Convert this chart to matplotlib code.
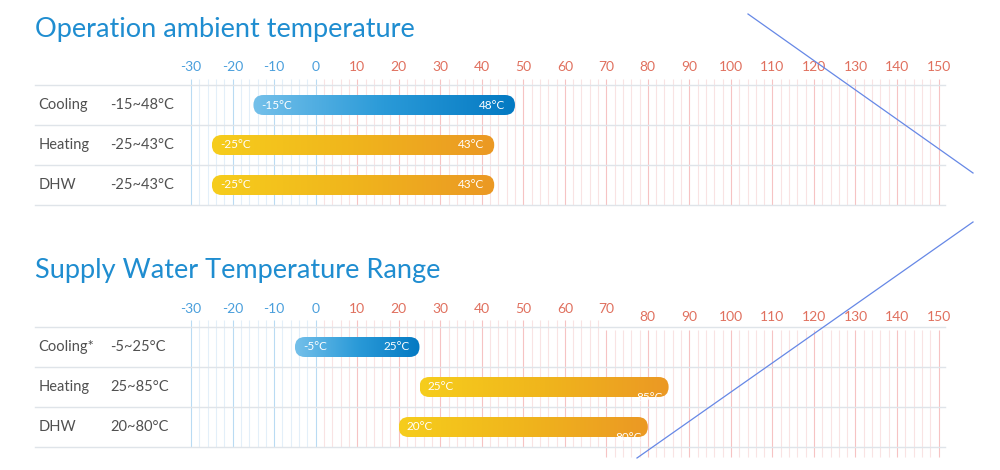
import numpy as np
import matplotlib
matplotlib.use("Agg")
import matplotlib.pyplot as plt
from matplotlib.patches import FancyBboxPatch
from matplotlib.lines import Line2D
from matplotlib.colors import LinearSegmentedColormap

plt.rcParams['font.family'] = ['Lato', 'DejaVu Sans']

# ---------------- data ----------------
titles = ["Operation ambient temperature", "Supply Water Temperature Range"]
modes_top = ["Cooling", "Heating", "DHW"]
ranges_top = ["-15~48°C", "-25~43°C", "-25~43°C"]
low_top = [-15, -25, -25]
high_top = [48, 43, 43]

modes_bot = ["Cooling*", "Heating", "DHW"]
ranges_bot = ["-5~25°C", "25~85°C", "20~80°C"]
low_bot = [-5, 25, 20]
high_bot = [25, 85, 80]

ticks = list(range(-30, 151, 10))
minor_ticks = [t for t in range(-30, 151, 2) if t % 10 != 0]

# ---------------- style ----------------
FIG_W, FIG_H = 1000, 470
X0_PX, SX = 315.7, 4.152          # pixel of 0 °C, pixels per °C
AX_L, AX_R = 35, 945
ROW_PX = 40
XLIM = ((AX_L - X0_PX) / SX, (AX_R - X0_PX) / SX)

blue_txt = "#4a9fdc"
red_txt = "#e0705e"
blue_major = "#b9dbf3"
red_major = "#f6c3c3"
blue_minor = "#e3eff9"
red_minor = "#f9e3e3"
hline_c = "#dfe4e9"
title_c = "#1f8dd0"
label_c = "#505050"

cool_cmap = LinearSegmentedColormap.from_list("cool", ["#74c0ea", "#2a9ad8", "#0479c2"])
heat_cmap = LinearSegmentedColormap.from_list("heat", ["#f6cd1c", "#f0b51c", "#eb9824"])

fig = plt.figure(figsize=(FIG_W / 100, FIG_H / 100), dpi=100)


def make_axes(top_px):
    return fig.add_axes([AX_L / FIG_W, 1 - (top_px + 3 * ROW_PX) / FIG_H,
                         (AX_R - AX_L) / FIG_W, 3 * ROW_PX / FIG_H])


def draw_panel(ax, title, title_base_px, modes, ranges, lows, highs, bottom_panel):
    ax.set_xlim(*XLIM)
    ax.set_ylim(3, 0)
    ax.axis("off")

    # vertical grid
    for t in minor_ticks + ticks:
        major = t % 10 == 0
        if t <= 0:
            c = blue_major if major else blue_minor
        else:
            c = red_major if major else red_minor
        if bottom_panel and t >= 70:
            y0, y1 = 0.075, 3.25
        elif bottom_panel:
            y0, y1 = -0.175, 3.0
        else:
            y0, y1 = -0.15, 3.0
        ax.plot([t, t], [y0, y1], color=c, lw=0.8, zorder=1, clip_on=False,
                solid_capstyle="butt")

    # horizontal lines
    for r in range(4):
        ax.plot(XLIM, [r, r], color=hline_c, lw=1.0, zorder=1.5, clip_on=False)

    # tick labels
    for t in ticks:
        c = blue_txt if t <= 0 else red_txt
        dy = -0.45
        if bottom_panel and t >= 80:
            dy = -0.24
        ax.text(t, dy, str(t), ha="center", va="center", fontsize=10, color=c,
                clip_on=False)

    # title
    fig.text(AX_L / FIG_W, 1 - title_base_px / FIG_H, title, fontsize=19.5,
             color=title_c, ha="left", va="baseline")

    # row labels
    for i, (m, rg) in enumerate(zip(modes, ranges)):
        ax.text(0.004, i + 0.5, m, transform=ax.get_yaxis_transform(), ha="left",
                va="center", fontsize=10.5, color=label_c)
        ax.text(0.083, i + 0.5, rg, transform=ax.get_yaxis_transform(), ha="left",
                va="center", fontsize=10.5, color=label_c)

    # bars
    h = 0.5
    r_x = (h * ROW_PX / 2) / SX
    asp = (h / 2) / r_x
    grad = np.linspace(0, 1, 256).reshape(1, -1)
    for i, (lo, hi) in enumerate(zip(lows, highs)):
        cmap = cool_cmap if i == 0 else heat_cmap
        yc = i + 0.5
        patch = FancyBboxPatch((lo, yc - h / 2), hi - lo, h,
                               boxstyle=f"round,pad=0,rounding_size={r_x}",
                               mutation_aspect=asp, facecolor="none",
                               edgecolor="none", zorder=3)
        ax.add_patch(patch)
        im = ax.imshow(grad, cmap=cmap, aspect="auto",
                       extent=[lo, hi, yc + h / 2, yc - h / 2], zorder=3,
                       interpolation="bilinear")
        im.set_clip_path(patch)
        ax.text(lo + 8 / SX, yc, f"{lo}°C", ha="left", va="center", fontsize=8.5,
                color="white", zorder=4)
        if bottom_panel and i > 0:
            tx = ax.text(hi - 6 / SX, yc + 0.27, f"{hi}°C", ha="right", va="center",
                         fontsize=8.5, color="white", zorder=4)
            tx.set_clip_path(patch)
        else:
            ax.text(hi - 10 / SX, yc, f"{hi}°C", ha="right", va="center",
                    fontsize=8.5, color="white", zorder=4)
    ax.set_xlim(*XLIM)
    ax.set_ylim(3, 0)


ax1 = make_axes(85)
draw_panel(ax1, titles[0], 37, modes_top, ranges_top, low_top, high_top, False)
ax2 = make_axes(327)
draw_panel(ax2, titles[1], 278, modes_bot, ranges_bot, low_bot, high_bot, True)

# decorative diagonal strokes
line_c = "#6688e6"
fig.add_artist(Line2D([748 / FIG_W, 973 / FIG_W], [1 - 14 / FIG_H, 1 - 173 / FIG_H],
                      color=line_c, lw=0.9))
fig.add_artist(Line2D([637 / FIG_W, 973 / FIG_W], [1 - 458 / FIG_H, 1 - 222 / FIG_H],
                      color=line_c, lw=0.9))

fig.savefig("out.png", dpi=100, facecolor="white")
